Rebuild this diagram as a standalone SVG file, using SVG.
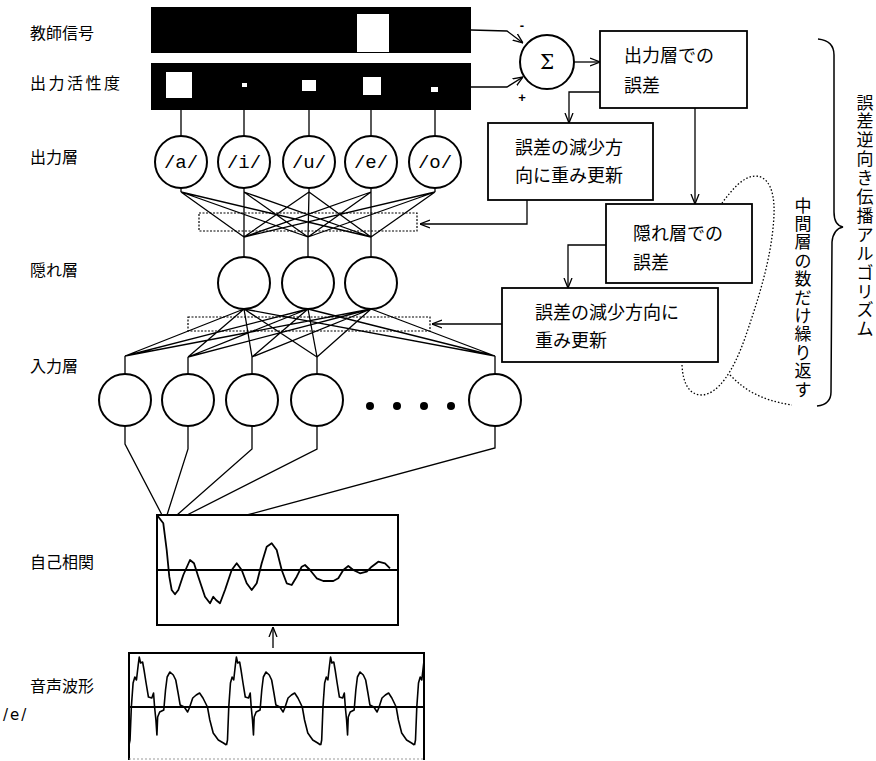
<svg xmlns="http://www.w3.org/2000/svg" xmlns:xlink="http://www.w3.org/1999/xlink" width="876" height="761" viewBox="0 0 876 761">
<style>
.lbl{font-family:"Noto Sans CJK JP","Noto Sans CJK SC",sans-serif;font-size:16px;fill:#000}
.bt{font-family:"Noto Sans CJK JP","Noto Sans CJK SC",sans-serif;font-size:18px;fill:#000}
.vt{font-family:"Liberation Sans","Noto Sans CJK JP","Noto Sans CJK SC",sans-serif;font-size:17px;fill:#000;text-anchor:middle}
.box{fill:#fff;stroke:#000;stroke-width:1.8}
.node{fill:#fff;stroke:#000;stroke-width:2}
.ln{fill:none;stroke:#000;stroke-width:1.3}
.dot{fill:none;stroke:#000;stroke-width:1.2;stroke-dasharray:2 1.5}
.ph{font-family:"Liberation Mono","DejaVu Sans Mono",monospace;font-size:19px;text-anchor:middle;fill:#000}
.crv{fill:none;stroke:#000;stroke-width:1.8;stroke-linejoin:round}
.sg{font-family:"Liberation Sans",sans-serif;font-size:13px;font-weight:bold;text-anchor:middle}
</style>
<defs>
<marker id="ah" viewBox="0 0 10 10" refX="10" refY="5" markerWidth="10" markerHeight="10" orient="auto" markerUnits="userSpaceOnUse">
<path d="M0,1 L10,5 L0,9" fill="none" stroke="#000" stroke-width="1.3"/>
</marker>
<path id="per" vector-effect="non-scaling-stroke" fill="none" stroke="#000" stroke-width="1.6" stroke-linejoin="round" d="M0,745 L1,740 L2.3,707 L4,683 L5.7,677 L7.3,680 L9,665 L10,657 L11.3,663 L13.3,662 L14.7,670 L16.7,683 L19,697 L22.3,698 L24,693 L25,707 L26.3,720 L27.3,735 L28,717 L30,712 L34,710 L35.7,690 L37.3,677 L40,672 L43.3,675 L45.7,680 L48,693 L50,705 L54,707 L57.3,712 L59,708 L62.3,698 L65.7,695 L69,693 L72.3,698 L76.7,707 L79,720 L82.3,733 L87.3,740 L92.3,743 L95.3,745"/>
<clipPath id="wclip"><rect x="129" y="653" width="295" height="108"/></clipPath>
</defs>
<rect width="876" height="761" fill="#fff"/>

<g id="labels">
<text class="lbl" x="30" y="39">教師信号</text>
<text class="lbl" x="30" y="89" style="letter-spacing:2.5px">出力活性度</text>
<text class="lbl" x="30" y="163">出力層</text>
<text class="lbl" x="30" y="276">隠れ層</text>
<text class="lbl" x="30" y="372">入力層</text>
<text class="lbl" x="30" y="568">自己相関</text>
<text class="lbl" x="30" y="692">音声波形</text>
<text x="3" y="720" style="font-family:'DejaVu Sans',sans-serif;font-size:15px;letter-spacing:2px">/e/</text>
</g>

<g id="teacher">
<rect x="151" y="7" width="320" height="46" fill="#000"/>
<rect x="357" y="14" width="32" height="38" fill="#fff"/>
</g>
<g id="activity">
<rect x="151" y="63" width="320" height="47" fill="#000"/>
<rect x="166" y="72" width="26" height="26" fill="#fff"/>
<rect x="242" y="83" width="5" height="4" fill="#fff"/>
<rect x="302" y="80" width="14" height="11" fill="#fff"/>
<rect x="363" y="77" width="18" height="18" fill="#fff"/>
<rect x="431" y="87" width="7" height="5" fill="#fff"/>
</g>

<g id="connectors">
<path class="ln" d="M471,30 L507,31 L523,43" marker-end="url(#ah)"/>
<path class="ln" d="M471,87 L507,87 L523,77" marker-end="url(#ah)"/>
<path class="ln" d="M574,62 H600" marker-end="url(#ah)"/>
<path class="ln" d="M600,92 H569 V123" marker-end="url(#ah)"/>
<path class="ln" d="M695,108 V204" marker-end="url(#ah)"/>
<path class="ln" d="M527,200 V224 H420" marker-end="url(#ah)"/>
<path class="ln" d="M606,245 H568 V288" marker-end="url(#ah)"/>
<path class="ln" d="M502,324 H432" marker-end="url(#ah)"/>
<path class="ln" d="M181,110 V136 M244,110 V136 M309,110 V136 M371,110 V136 M435,110 V136"/>
<path class="ln" d="M181,188 V192 M244,188 V192 M309,188 V192 M371,188 V192 M435,188 V192"/>
<path class="ln" d="M181,192 L244,237 M181,192 L308,237 M181,192 L371,237
M244,192 L244,237 M244,192 L308,237 M244,192 L371,237
M309,192 L244,237 M309,192 L308,237 M309,192 L371,237
M371,192 L244,237 M371,192 L308,237 M371,192 L371,237
M435,192 L244,237 M435,192 L308,237 M435,192 L371,237"/>
<path class="ln" d="M244,237 V257 M308,237 V257 M371,237 V257"/>
<path class="ln" d="M244,309 L125,356 M244,309 L188,357 M244,309 L252,357 M244,309 L317,357 M244,309 L495,356
M308,309 L125,356 M308,309 L188,357 M308,309 L252,357 M308,309 L317,357 M308,309 L495,356
M371,309 L125,356 M371,309 L188,357 M371,309 L252,357 M371,309 L317,357 M371,309 L495,356"/>
<path class="ln" d="M125,356 V374 M188,357 V374 M252,357 V374 M317,357 V374 M495,356 V374"/>
<path class="ln" d="M125,426 V444 L162,515 M188,426 V449 L167,515 M252,426 V449 L177,515 M317,426 V449 L187,515 M495,426 V448 L247,515"/>
<path class="ln" d="M273,648 V627" marker-end="url(#ah)"/>
</g>

<g id="weights1"><rect class="dot" x="199" y="213" width="218" height="18"/></g>
<g id="weights2"><rect class="dot" x="188" y="317" width="242" height="14"/></g>

<g id="sigma">
<circle class="node" cx="547" cy="62" r="27"/>
<text x="547" y="69" text-anchor="middle" style="font-family:'DejaVu Serif',serif;font-size:20px">Σ</text>
<text class="sg" x="522" y="30">-</text>
<text class="sg" x="522" y="102">+</text>
</g>

<g id="box-out-err">
<rect class="box" x="600" y="31" width="147" height="77"/>
<text class="bt" x="624" y="62">出力層での</text>
<text class="bt" x="624" y="92">誤差</text>
</g>
<g id="box-upd1">
<rect class="box" x="488" y="123" width="165" height="77"/>
<text class="bt" x="515" y="154">誤差の減少方</text>
<text class="bt" x="515" y="182">向に重み更新</text>
</g>
<g id="box-hid-err">
<rect class="box" x="606" y="204" width="146" height="79"/>
<text class="bt" x="633" y="240">隠れ層での</text>
<text class="bt" x="633" y="269">誤差</text>
</g>
<g id="box-upd2">
<rect class="box" x="502" y="288" width="216" height="74"/>
<text class="bt" x="535" y="319">誤差の減少方向に</text>
<text class="bt" x="535" y="347">重み更新</text>
</g>

<g id="output-layer">
<circle class="node" cx="181" cy="162" r="26"/><text class="ph" x="181" y="168">/a/</text>
<circle class="node" cx="244" cy="162" r="26"/><text class="ph" x="244" y="168">/i/</text>
<circle class="node" cx="309" cy="162" r="26"/><text class="ph" x="309" y="168">/u/</text>
<circle class="node" cx="371" cy="162" r="26"/><text class="ph" x="371" y="168">/e/</text>
<circle class="node" cx="435" cy="162" r="26"/><text class="ph" x="435" y="168">/o/</text>
</g>
<g id="hidden-layer">
<circle class="node" cx="244" cy="283" r="26"/>
<circle class="node" cx="308" cy="283" r="26"/>
<circle class="node" cx="371" cy="283" r="26"/>
</g>
<g id="input-layer">
<circle class="node" cx="125" cy="400" r="26"/>
<circle class="node" cx="188" cy="400" r="26"/>
<circle class="node" cx="252" cy="400" r="26"/>
<circle class="node" cx="317" cy="400" r="26"/>
<circle class="node" cx="495" cy="400" r="26"/>
<circle cx="370" cy="406" r="4"/><circle cx="397" cy="406" r="4"/><circle cx="424" cy="406" r="4"/><circle cx="451" cy="406" r="4"/>
</g>

<g id="autocorr">
<rect x="157" y="515" width="241" height="110" fill="none" stroke="#000" stroke-width="2"/>
<line x1="157" y1="570" x2="398" y2="570" stroke="#000" stroke-width="2"/>
<polyline class="crv" points="157,515 158.3,516.7 163.3,523.3 166.7,550 169.3,576.7 171.7,590 175,594.3 178.3,590 183.3,575 190,560 194,563.3 198.3,576.7 205,596.7 210,603.3 213.3,596.7 216,600 220,603.3 225,590 231.7,570 236.7,563.3 241.7,570 246.7,583.3 251.7,590 256.7,583.3 261.7,563.3 266.7,546.7 271.7,543.3 276.7,550 281.7,570 286.7,583.3 291.7,585 296.7,576.7 301.7,566.7 305,565 310,570 316.7,578.3 323.3,581 333.3,581 338.3,578.3 343.3,570 348.3,566 353.3,570 360,573.3 366.7,571.7 371.7,566.7 378.3,561.7 385,563.3 390,568.3"/>
</g>

<g id="waveform">
<path d="M129,760 V653 H424 V760" fill="none" stroke="#000" stroke-width="2"/>
<line x1="129" y1="759" x2="424" y2="759" stroke="#999" stroke-width="1" stroke-dasharray="2 2"/>
<line x1="129" y1="707" x2="424" y2="707" stroke="#000" stroke-width="1.8"/>
<g clip-path="url(#wclip)">
<use xlink:href="#per" transform="translate(129,0) scale(1.023,1)"/>
<use xlink:href="#per" transform="translate(226.5,0) scale(0.988,1)"/>
<use xlink:href="#per" transform="translate(320.7,0) scale(0.984,1)"/>
<use xlink:href="#per" transform="translate(414.5,0)"/>
</g>
</g>

<g id="repeat-loop">
<path d="M682,365 C683,385 690,395 702,395 C718,394 733,372 745,338 C758,300 772,258 774,215 C775,190 768,176 755,176 C742,177 732,190 722,203" fill="none" stroke="#000" stroke-width="1.3" stroke-dasharray="1.5 2"/>
<path d="M730,375 C745,390 760,400 792,405" fill="none" stroke="#000" stroke-width="1.3" stroke-dasharray="1.5 2"/>
<text class="vt" x="803" y="211.5">中</text>
<text class="vt" x="803" y="229.9">間</text>
<text class="vt" x="803" y="248.3">層</text>
<text class="vt" x="803" y="266.7">の</text>
<text class="vt" x="803" y="285.1">数</text>
<text class="vt" x="803" y="303.5">だ</text>
<text class="vt" x="803" y="321.9">け</text>
<text class="vt" x="803" y="340.3">繰</text>
<text class="vt" x="803" y="358.7">り</text>
<text class="vt" x="803" y="377.1">返</text>
<text class="vt" x="803" y="395.5">す</text>
</g>

<g id="algorithm">
<path d="M818,39 C828,40 834,45 834,55 L834,212 C834,222 838,226 843,227 C838,228 833,232 832,242 L831,392 C831,400 826,405 817,406" fill="none" stroke="#000" stroke-width="1.5"/>
<text class="vt" x="865" y="108.5">誤</text>
<text class="vt" x="865" y="127.4">差</text>
<text class="vt" x="865" y="146.3">逆</text>
<text class="vt" x="865" y="165.2">向</text>
<text class="vt" x="865" y="184.1">き</text>
<text class="vt" x="865" y="203">伝</text>
<text class="vt" x="865" y="221.9">播</text>
<text class="vt" x="865" y="240.8">ア</text>
<text class="vt" x="865" y="259.7">ル</text>
<text class="vt" x="865" y="278.6">ゴ</text>
<text class="vt" x="865" y="297.5">リ</text>
<text class="vt" x="865" y="316.4">ズ</text>
<text class="vt" x="865" y="335.3">ム</text>
</g>
</svg>
